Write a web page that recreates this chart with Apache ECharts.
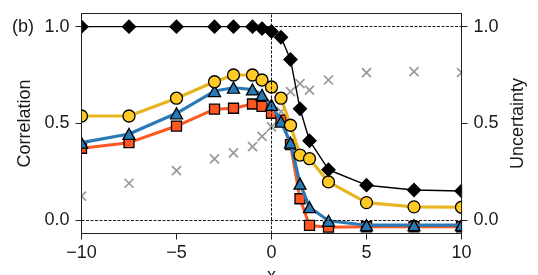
<!DOCTYPE html>
<html><head><meta charset="utf-8">
<script src="https://cdn.jsdelivr.net/npm/echarts@6/dist/echarts.min.js"></script>
<style>html,body{margin:0;padding:0;background:#fff}#c{width:538px;height:275px}</style>
</head><body><div id="c"></div>
<script>
const xValues = [-10,-7.5,-5,-3,-2,-1,-0.5,0,0.5,1,1.5,2,3,5,7.5,10];
const diamondSeries = [1,1,1,1,1,1,0.99,0.975,0.945,0.83,0.575,0.41,0.26,0.18,0.155,0.15];
const circleSeries = [0.538,0.538,0.63,0.715,0.75,0.75,0.724,0.688,0.63,0.49,0.336,0.317,0.197,0.09,0.068,0.066];
const triangleSeries = [0.40,0.445,0.552,0.667,0.684,0.675,0.647,0.595,0.509,0.40,0.188,0.066,-0.004,-0.027,-0.027,-0.027];
const squareSeries = [0.371,0.40,0.486,0.573,0.578,0.60,0.588,0.552,0.517,0.39,0.11,-0.028,-0.037,-0.035,-0.035,-0.035];
const crossSeries = [0.124,0.19,0.255,0.316,0.347,0.379,0.433,0.482,0.56,0.664,0.705,0.672,0.724,0.762,0.767,0.762];
const xTicks = [-10,-5,0,5,10];
const xTickLabels = ['\u221210','\u22125','0','5','10'];
const yTicks = [0,0.5,1];
const yTickLabels = ['0.0','0.5','1.0'];
const refY = [0,1];
const refX = [0];

const FONT = 'Liberation Sans';
const TXT = '#1a1a1a';
const zip = (ys) => xValues.map((x,i)=>[x, ys[i]]);
const lookup = (ticks, labels) => (v) => { const i = ticks.findIndex(t=>Math.abs(t-v)<1e-6); return i<0 ? '' : labels[i]; };

const chart = echarts.init(document.getElementById('c'), null, {renderer:'canvas'});
const yAxisBase = (pos) => ({
  type:'value', position:pos, min:-0.0698, max:1.068, z:10,
  axisLine:{show:true, onZero:false, lineStyle:{color:'#222', width:1}},
  axisTick:{show:true, length:6, lineStyle:{color:'#222', width:1}, customValues:yTicks},
  axisLabel:{show:true, margin:12, fontSize:18, fontFamily:FONT, color:TXT, customValues:yTicks, formatter:lookup(yTicks,yTickLabels)},
  splitLine:{show:false},
  nameLocation:'middle', nameGap:46,
  nameTextStyle:{fontSize:18, fontFamily:FONT, color:TXT}
});
const lineS = (data, color, face, symbol, size, width, z) => ({
  type:'line', data:zip(data), z:z, symbol:symbol, symbolSize:size, clip:true,
  lineStyle:{color:color, width:width}, itemStyle:{color:face, borderColor:'#000', borderWidth:1.3},
  showSymbol:true, animation:false, silent:true
});
chart.setOption({
  animation:false,
  grid:{left:81.5, right:76.5, top:13.5, bottom:41.5, outerBoundsMode:'none', containLabel:false, show:true, borderColor:'#222', borderWidth:1, backgroundColor:'transparent'},
  xAxis:{type:'value', min:-10, max:10, interval:5, z:10,
    axisLine:{show:true, onZero:false, lineStyle:{color:'#222', width:1}},
    axisTick:{show:true, length:6, lineStyle:{color:'#222', width:1}},
    axisLabel:{margin:11, fontSize:18, fontFamily:FONT, color:TXT, formatter:lookup(xTicks,xTickLabels)},
    splitLine:{show:false},
    name:'x', nameLocation:'middle', nameGap:32, nameTextStyle:{fontSize:18, fontFamily:FONT, color:TXT}
  },
  yAxis:[Object.assign(yAxisBase('left'),{name:'Correlation'}), Object.assign(yAxisBase('right'),{name:'Uncertainty'})],
  graphic:[
    {type:'rect', z:5, silent:true, shape:{x:68, y:0, width:13, height:233}, style:{fill:'#fff'}},
    {type:'rect', z:5, silent:true, shape:{x:462.2, y:0, width:10, height:233}, style:{fill:'#fff'}},
    {type:'text', z:10, left:12, top:18, style:{text:'(b)', font:'18px "Liberation Sans"', fill:TXT}}
  ],
  series:[
    {type:'scatter', yAxisIndex:1, data:zip(crossSeries), z:1, symbol:'path://M0,0L10,10M10,0L0,10', symbolSize:9,
     itemStyle:{color:'rgba(0,0,0,0)', borderColor:'#808080', borderWidth:1.7}, silent:true,
     markLine:{silent:true, symbol:'none', label:{show:false}, animation:false,
       lineStyle:{color:'#000', width:0.9, type:[3,1.5]},
       data:[...refY.map(v=>({yAxis:v})), ...refX.map(v=>({xAxis:v}))]}},
    lineS(squareSeries, '#FF5722', '#FF5722', 'rect', 10, 3, 2),
    lineS(triangleSeries, '#2A7AB8', '#2A7AB8', 'triangle', [12,11], 3.2, 3),
    lineS(circleSeries, '#E8B521', '#FFC926', 'circle', 12, 3.2, 4),
    lineS(diamondSeries, '#000', '#000', 'diamond', [13,13], 1.4, 4.5)
  ]
});
</script></body></html>
